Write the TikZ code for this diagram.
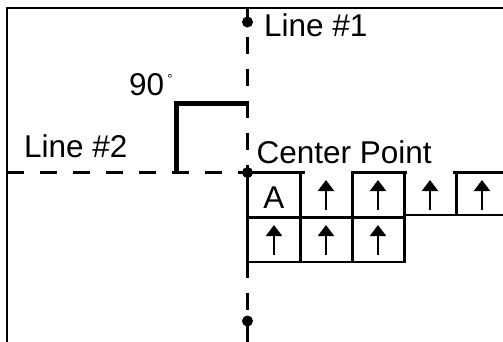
\documentclass[tikz,border=0pt]{standalone}
\usepackage{fontspec}
\setmainfont{Liberation Sans}
\usetikzlibrary{arrows.meta}
\begin{document}
\begin{tikzpicture}[x=1pt,y=-1pt,
  thin line/.style={line width=2.2pt},
  dashvert/.style={line width=2.2pt, dash pattern=on 17pt off 15pt, dash phase=3pt},
  dashhor/.style={line width=2.2pt, dash pattern=on 17pt off 16pt},
  anglemark/.style={line width=5pt, miter limit=10},
  gridline/.style={line width=2.2pt},
  uparrow/.style={line width=2.2pt, -{Triangle[width=16pt,length=11pt]}},
  lbl/.style={inner sep=0pt, anchor=base west, font=\fontsize{31.5}{31.5}\selectfont},
  dot/.style={circle, fill=black, inner sep=0pt, minimum size=11pt}
]
\useasboundingbox (0,0) rectangle (503,341);
\clip (0,0) rectangle (503,341);
% frame
\coordinate (ftl) at (7,8);
\coordinate (ftr) at (505,8);
\coordinate (fbl) at (7,343);
\draw[thin line] (ftr) -- (ftl) -- (fbl);
% axis coordinates
\coordinate (vtop) at (247.5,8);
\coordinate (vbot) at (247.5,343);
\coordinate (hleft) at (7,172.5);
\coordinate (center) at (247.5,172.5);
\draw[dashvert] (vtop) -- (vbot);
\draw[dashhor] (hleft) -- (center);
% right angle mark
\coordinate (a1) at (176.5,172.5);
\coordinate (a2) at (176.5,103);
\coordinate (a3) at (248.5,103);
\draw[anglemark] (a1) -- (a2) -- (a3);
% dots
\node[dot] (d1) at (247.5,22) {};
\node[dot] (d2) at (center) {};
\node[dot] (d3) at (247.5,321) {};
% labels
\node[lbl] (l1) at (264,36) {Line \#1};
\node[lbl] (l2) at (24,157) {Line \#2};
\node[lbl] (cp) at (256.5,163) {Center Point};
\node[lbl] (ang) at (129,95) {90};
\node[inner sep=0pt, anchor=base, font=\fontsize{13}{13}\selectfont] (deg) at (170,83) {°};
% grid
\draw[gridline] (247.5,172.5) -- (305,172.5);
\draw[gridline] (351,172.5) -- (407,172.5);
\draw[gridline] (453,172.5) -- (510,172.5);
\draw[gridline] (247.5,172) -- (247.5,262);
\draw[gridline] (300.5,172) -- (300.5,262);
\draw[gridline] (352.5,172) -- (352.5,262);
\draw[gridline] (404.5,172) -- (404.5,262);
\draw[gridline] (456.5,172) -- (456.5,215);
\draw[gridline] (247.5,217.5) -- (404.5,217.5);
\draw[gridline] (404.5,215) -- (510,215);
\draw[gridline] (247.5,262) -- (405.5,262);
% A
\node[inner sep=0pt, anchor=base, font=\fontsize{31.5}{31.5}\selectfont] (A) at (274,208.5) {A};
% arrows row 1
\foreach \x/\n in {326/b,378/c,430/d,482/e}{
  \coordinate (\n s) at (\x,210);
  \coordinate (\n t) at (\x,180);
  \draw[uparrow] (\n s) -- (\n t);
}
% arrows row 2
\foreach \x/\n in {274/f,326/g,378/h}{
  \coordinate (\n s) at (\x,255);
  \coordinate (\n t) at (\x,225);
  \draw[uparrow] (\n s) -- (\n t);
}
\end{tikzpicture}
\end{document}
